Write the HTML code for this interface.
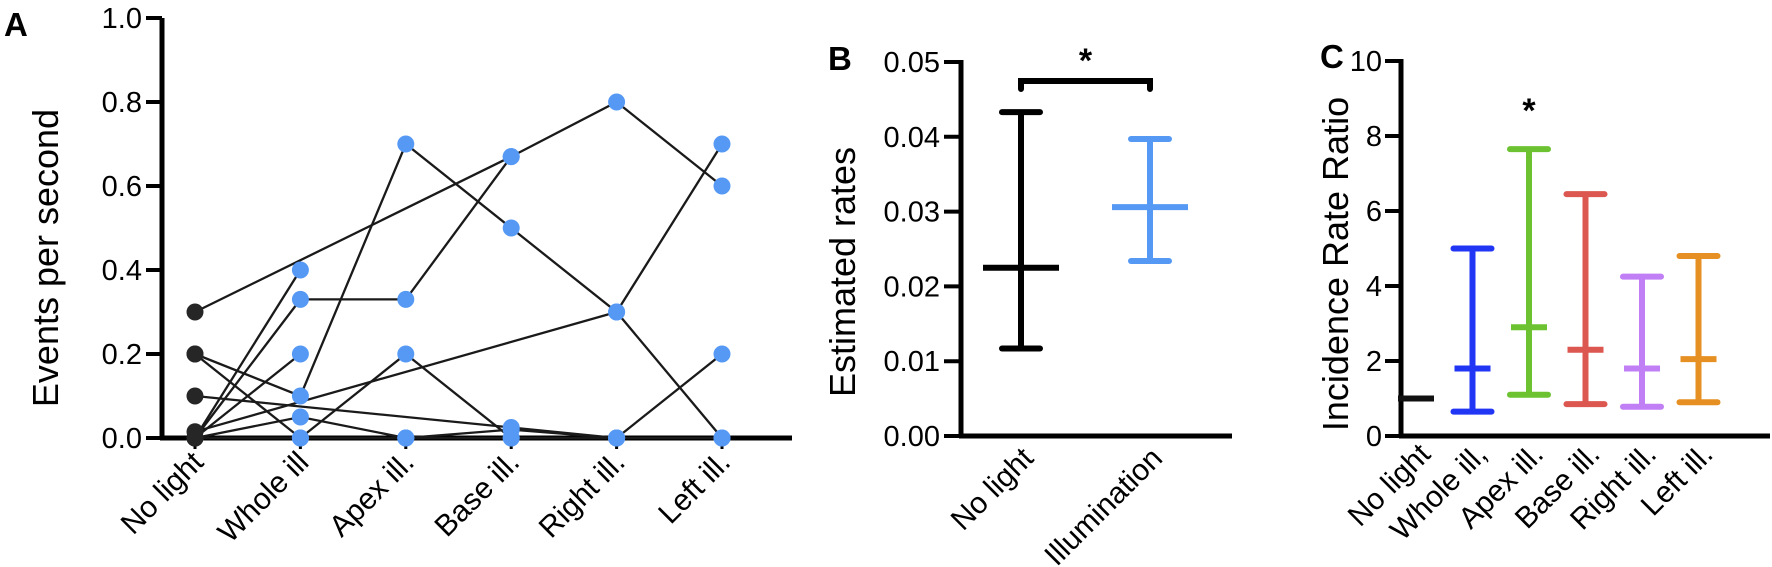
<!DOCTYPE html>
<html><head><meta charset="utf-8"><style>
html,body{margin:0;padding:0;background:#fff;}
svg{display:block;font-family:"Liberation Sans",Arial,sans-serif;}
</style></head><body>
<svg id="fig" width="1772" height="567" viewBox="0 0 1772 567" xmlns="http://www.w3.org/2000/svg">
<text x="4" y="36" font-size="33" font-weight="bold">A</text>
<text x="828" y="70" font-size="33" font-weight="bold">B</text>
<text x="1320" y="68" font-size="33" font-weight="bold">C</text>
<g id="pa"></g>
<g id="pb"></g>
<g id="pc"></g>
</svg>
<script>
// ---- Panel A data ----
const aCats = ["No light","Whole ill","Apex ill.","Base ill.","Right ill.","Left ill."];
const aTicks = [0,0.2,0.4,0.6,0.8,1.0];
const aTickLabels = ["0.0","0.2","0.4","0.6","0.8","1.0"];
const aTrace1 = [[0,0.3],[3,0.67],[4,0.8],[5,0.6]];
const aTrace2 = [[0,0.2],[1,0.1],[2,0.7],[3,0.5],[4,0.3],[5,0.0]];
const aTrace3 = [[0,0.0],[1,0.33],[2,0.33],[3,0.67]];
const aTrace4 = [[0,0.0],[1,0.4]];
const aTrace5 = [[0,0.0],[1,0.2]];
const aTrace6 = [[0,0.2],[1,0.0],[2,0.0]];
const aTrace7 = [[0,0.0],[1,0.05],[2,0.0],[3,0.02],[4,0.0]];
const aTrace8 = [[0,0.1],[3,0.025],[4,0.0]];
const aTrace9 = [[0,0.0],[1,0.0],[2,0.2],[3,0.0],[4,0.0],[5,0.2]];
const aTrace10 = [[0,0.015],[4,0.3],[5,0.7]];
const aTrace11 = [[0,0.0],[2,0.0],[3,0.0],[4,0.0],[5,0.0]];
const aTraces = [aTrace1,aTrace2,aTrace3,aTrace4,aTrace5,aTrace6,aTrace7,aTrace8,aTrace9,aTrace10,aTrace11];

// ---- Panel B data ----
const bCats = ["No light","Illumination"];
const bMean = [0.0225,0.0306];
const bLow = [0.0117,0.0234];
const bHigh = [0.0433,0.0397];
const bTicks = [0,0.01,0.02,0.03,0.04,0.05];
const bTickLabels = ["0.00","0.01","0.02","0.03","0.04","0.05"];

// ---- Panel C data ----
const cCats = ["No light","Whole ill,","Apex ill.","Base ill.","Right ill.","Left ill."];
const cMean = [1.0,1.8,2.9,2.3,1.8,2.05];
const cLow = [1.0,0.65,1.1,0.85,0.78,0.9];
const cHigh = [1.0,5.0,7.65,6.45,4.25,4.8];
const cTicks = [0,2,4,6,8,10];
const cTickLabels = ["0","2","4","6","8","10"];
const cColors = ["#111111","#2135f5","#6cc230","#dc5750","#c07ff5","#e68f22"];

const NS="http://www.w3.org/2000/svg";
function mk(parent,tag,attrs){const e=document.createElementNS(NS,tag);for(const k in attrs)e.setAttribute(k,attrs[k]);parent.appendChild(e);return e;}

// Panel A
const pa=document.getElementById('pa');
const aX=i=>195+i*105.4;
const aY=v=>438-v*420;
let e;
e=mk(pa,'line',{x1:162,y1:aY(1),x2:162,y2:440,stroke:'#000','stroke-width':5});


e=mk(pa,'line',{x1:160,y1:438,x2:792,y2:438,stroke:'#000','stroke-width':5});


aTicks.forEach((t,i)=>{
  e=mk(pa,'line',{x1:146,y1:aY(t),x2:162,y2:aY(t),stroke:'#000','stroke-width':4});
  
  
  e=mk(pa,'text',{x:142,y:aY(t)+10,'font-size':29,'text-anchor':'end'});e.textContent=aTickLabels[i];
  
  
});
aCats.forEach((c,i)=>{
  e=mk(pa,'line',{x1:aX(i),y1:438,x2:aX(i),y2:449,stroke:'#000','stroke-width':3});
  
  
  e=mk(pa,'text',{x:0,y:0,'font-size':30,'text-anchor':'end',transform:`translate(${aX(i)+10},${464}) rotate(-45)`});e.textContent=c;
  
  
});
e=mk(pa,'text',{x:0,y:0,'font-size':36,'text-anchor':'middle',transform:'translate(58,258) rotate(-90)'});e.textContent='Events per second';


aTraces.forEach(tr=>{
  e=mk(pa,'polyline',{points:tr.map(p=>aX(p[0])+','+aY(p[1])).join(' '),fill:'none',stroke:'#1a1a1a','stroke-width':2.3});
  
  
});
aTraces.forEach(tr=>tr.forEach(p=>{
  e=mk(pa,'circle',{cx:aX(p[0]),cy:aY(p[1]),r:8.5,fill:p[0]===0?'#262626':'#5599f5'});
  
  
}));

// Panel B
const pb=document.getElementById('pb');
const bX=i=>1021+i*129;
const bY=v=>436-v*7480;
e=mk(pb,'line',{x1:961,y1:bY(0.05)-2,x2:961,y2:438,stroke:'#000','stroke-width':5});


e=mk(pb,'line',{x1:959,y1:436,x2:1232,y2:436,stroke:'#000','stroke-width':5});


bTicks.forEach((t,i)=>{
  e=mk(pb,'line',{x1:944,y1:bY(t),x2:961,y2:bY(t),stroke:'#000','stroke-width':4});
  
  
  e=mk(pb,'text',{x:940,y:bY(t)+10,'font-size':29,'text-anchor':'end'});e.textContent=bTickLabels[i];
  
  
});
bCats.forEach((c,i)=>{
  e=mk(pb,'text',{x:0,y:0,'font-size':30,'text-anchor':'end',transform:`translate(${bX(i)+14},${460}) rotate(-45)`});e.textContent=c;
  
  
  const col=i===0?'#000':'#5599f5';
  e=mk(pb,'line',{x1:bX(i),y1:bY(bLow[i]),x2:bX(i),y2:bY(bHigh[i]),stroke:col,'stroke-width':6});
  
  
  [bLow[i],bHigh[i]].forEach(v=>{
    e=mk(pb,'line',{x1:bX(i)-19,y1:bY(v),x2:bX(i)+19,y2:bY(v),stroke:col,'stroke-width':6,'stroke-linecap':'round'});
    
    
  });
  e=mk(pb,'line',{x1:bX(i)-38,y1:bY(bMean[i]),x2:bX(i)+38,y2:bY(bMean[i]),stroke:col,'stroke-width':6});
  
  
});
e=mk(pb,'path',{d:`M${bX(0)},89 L${bX(0)},81 L${bX(1)},81 L${bX(1)},89`,fill:'none',stroke:'#000','stroke-width':6,'stroke-linecap':'round'});


e=mk(pb,'text',{x:(bX(0)+bX(1))/2,y:72,'font-size':34,'font-weight':'bold','text-anchor':'middle'});e.textContent='*';


e=mk(pb,'text',{x:0,y:0,'font-size':36,'text-anchor':'middle',transform:'translate(855,272) rotate(-90)'});e.textContent='Estimated rates';



// Panel C
const pc=document.getElementById('pc');
const cX=i=>1416+i*56.5;
const cY=v=>436-v*37.5;
e=mk(pc,'line',{x1:1401,y1:cY(10)-2,x2:1401,y2:438,stroke:'#000','stroke-width':5});


e=mk(pc,'line',{x1:1399,y1:436,x2:1770,y2:436,stroke:'#000','stroke-width':5});


cTicks.forEach((t,i)=>{
  e=mk(pc,'line',{x1:1385,y1:cY(t),x2:1401,y2:cY(t),stroke:'#000','stroke-width':4});
  
  
  e=mk(pc,'text',{x:1382,y:cY(t)+10,'font-size':29,'text-anchor':'end'});e.textContent=cTickLabels[i];
  
  
});
cCats.forEach((c,i)=>{
  e=mk(pc,'text',{x:0,y:0,'font-size':30,'text-anchor':'end',transform:`translate(${cX(i)+16},${456}) rotate(-45)`});e.textContent=c;
  
  
  const col=cColors[i];
  if(cHigh[i]>cLow[i]){
    e=mk(pc,'line',{x1:cX(i),y1:cY(cLow[i]),x2:cX(i),y2:cY(cHigh[i]),stroke:col,'stroke-width':6});
    
    
    [cLow[i],cHigh[i]].forEach(v=>{
      e=mk(pc,'line',{x1:cX(i)-19,y1:cY(v),x2:cX(i)+19,y2:cY(v),stroke:col,'stroke-width':6,'stroke-linecap':'round'});
      
      
    });
  }
  e=mk(pc,'line',{x1:cX(i)-18,y1:cY(cMean[i]),x2:cX(i)+18,y2:cY(cMean[i]),stroke:col,'stroke-width':6});
  
  
});
e=mk(pc,'text',{x:cX(2),y:122,'font-size':34,'font-weight':'bold','text-anchor':'middle'});e.textContent='*';


e=mk(pc,'text',{x:0,y:0,'font-size':36,'text-anchor':'middle',transform:'translate(1348,264) rotate(-90)'});e.textContent='Incidence Rate Ratio';


</script>
</body></html>
